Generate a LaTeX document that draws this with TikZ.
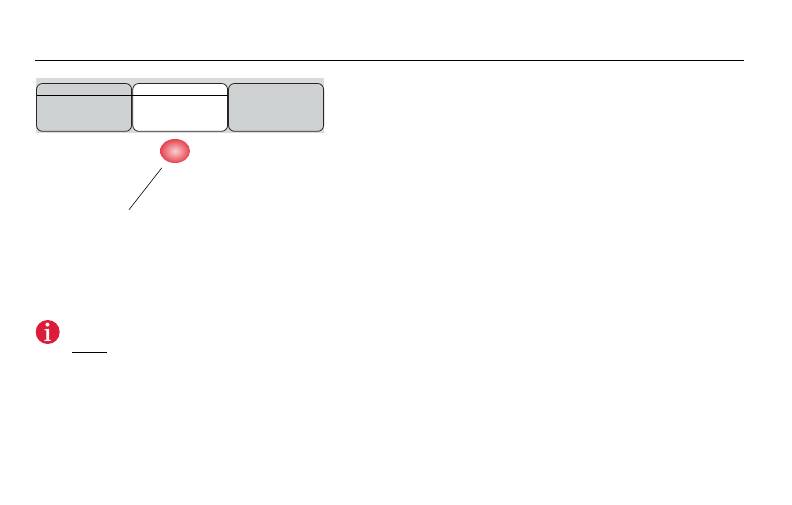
\documentclass[tikz,border=0pt]{standalone}
\usepackage{xcolor}
\usetikzlibrary{calc}
\usetikzlibrary{shapes.geometric}
\definecolor{bandgray}{RGB}{218,218,218}
\definecolor{keygray}{RGB}{207,210,211}
\definecolor{ledred}{RGB}{230,66,78}
\definecolor{iconred}{RGB}{220,28,56}
\tikzset{
  keybox/.style={draw=black!85,line width=0.8pt,rounded corners=6pt},
  thinline/.style={black,line width=0.6pt},
}
\begin{document}
\begin{tikzpicture}[x=1pt,y=-1pt]
  \useasboundingbox (0,0) rectangle (792,504);
  
  \def\ktop{83.5}   % top of the keys
  \def\kbot{131.3}  % bottom of the keys
  \def\ksep{95.3}   % line under the key tops
  
  % TOP RULE
  \draw[thinline] (35,60.5) -- (744,60.5);
  
  % BAND
  \fill[bandgray] (36,78) rectangle (324,132.7);
  
  % KEYS
  \draw[keybox,fill=keygray] (36.5,\ktop) rectangle (131.6,\kbot);
  \draw[keybox,fill=white]   (132.8,\ktop) rectangle (227.6,\kbot);
  \draw[keybox,fill=keygray] (228.5,\ktop) rectangle (323.6,\kbot);
  \draw[thinline] (36.5,\ksep) -- (227.6,\ksep);
  
  % LED
  \node[ellipse,minimum width=30pt,minimum height=24pt,inner sep=0pt,
        inner color=ledred!25!white,outer color=ledred] (led) at (175,151) {};
  \coordinate (ledtail) at (129,209.7);
  \draw[thinline,shorten <=21.5pt] (led.center) -- (ledtail);
  
  % INFO ICON
  \node[circle,fill=iconred,minimum size=24pt,inner sep=0pt,text=white,
        font=\bfseries\fontsize{27}{27}\selectfont] (info) at (47.7,332) {i};
  \coordinate (noteleft) at (72,352.3);
  \coordinate (noteright) at (106.7,352.3);
  \draw[thinline] (noteleft) -- (noteright);
\end{tikzpicture}
\end{document}
